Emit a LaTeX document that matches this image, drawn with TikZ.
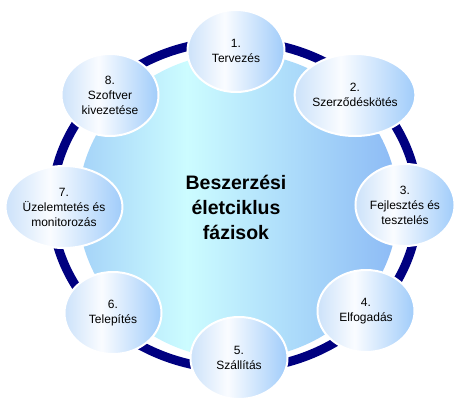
\documentclass[tikz,border=0pt]{standalone}
\usepackage{fontspec}
\setmainfont{Liberation Sans}
\usetikzlibrary{shapes.geometric}
\definecolor{navyring}{RGB}{0,0,128}
\definecolor{bigL}{RGB}{164,210,248}
\definecolor{bigM}{RGB}{204,252,255}
\definecolor{bigR}{RGB}{140,186,245}
\definecolor{smL}{RGB}{204,226,250}
\definecolor{smM}{RGB}{250,252,255}
\definecolor{smR}{RGB}{160,204,250}
\pgfdeclarehorizontalshading{bigshade}{100bp}{color(0bp)=(bigL); color(25bp)=(bigL); color(42bp)=(bigM); color(75bp)=(bigR); color(100bp)=(bigR)}
\pgfdeclarehorizontalshading{smshade}{100bp}{color(0bp)=(smL); color(25bp)=(smL); color(44bp)=(smM); color(75bp)=(smR); color(100bp)=(smR)}
\begin{document}
\begin{tikzpicture}[x=1pt,y=-1pt,
  phase/.style={ellipse, shading=smshade, draw=white, line width=2pt,
    minimum width=97pt, minimum height=82pt, inner sep=0pt, align=center,
    font=\fontsize{12}{15}\selectfont},
  hub/.style={align=center, font=\fontsize{19.5}{25}\selectfont\bfseries}]
\useasboundingbox (0,0) rectangle (469,413);
\draw[navyring, line width=9pt] (235,205) ellipse [x radius=183, y radius=164];
\path[shading=bigshade] (238,206) ellipse [x radius=160, y radius=153];
\node[hub] (hub) at (236,207) {Beszerzési\\életciklus\\fázisok};
\node[phase] (p1) at (236,51) {1.\\Tervezés};
\node[phase] (p2) at (355,95) {2.\\Szerződéskötés};
\node[phase] (p3) at (405,205) {3.\\Fejlesztés és\\tesztelés};
\node[phase] (p4) at (366,311) {4.\\Elfogadás};
\node[phase] (p5) at (239,358) {5.\\Szállítás};
\node[phase] (p6) at (113,313) {6.\\Telepítés};
\node[phase] (p7) at (64,207) {7.\\Üzelemtetés és\\monitorozás};
\node[phase] (p8) at (110,95) {8.\\Szoftver\\kivezetése};
\end{tikzpicture}
\end{document}
